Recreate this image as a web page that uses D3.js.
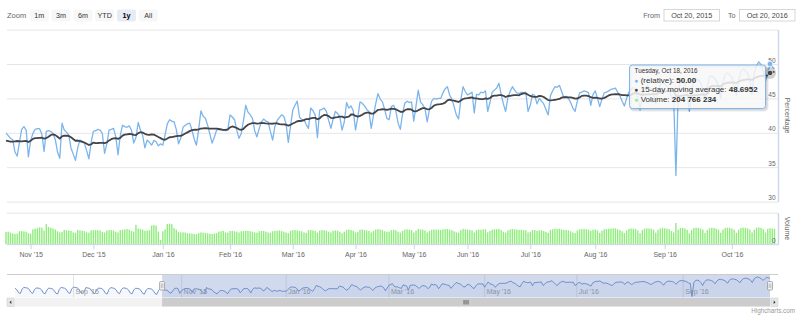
<!DOCTYPE html>
<html>
<head>
<meta charset="utf-8">
<script src="https://cdn.jsdelivr.net/npm/d3@7"></script>
<style>
  body { margin: 0; background: #fff; }
  svg { display: block; font-family: "Lucida Grande", "Lucida Sans Unicode", "Liberation Sans", Arial, sans-serif; }
</style>
</head>
<body>
<div id="chart"></div>
<script>
// ======= data ========

var startDate = "2015-07-30";
var endDate = "2016-10-20";
var viewFrom = "2015-10-21";   // first point of the "1y" range
var hoverDate = "2016-10-18";  // point shown in the tooltip
// days without a value
var gapDates = ["2015-11-26","2015-11-27","2016-01-18","2016-02-15","2016-03-25","2016-03-26","2016-03-27",
  "2016-04-14","2016-04-15","2016-04-16","2016-04-17","2016-05-12","2016-05-13","2016-05-14","2016-05-15",
  "2016-05-28","2016-05-29","2016-05-30","2016-06-04","2016-06-05","2016-07-03","2016-07-04"];

// (relative), whole history (navigator) - the first 83 values lie before the 1y view
var relative = [
  40.8,39.6,37.1,36.3,
  40.0,41.6,41.2,41.0,39.9,37.3,36.4,
  39.7,41.0,40.9,40.6,39.4,36.8,36.1,
  39.3,40.9,40.7,40.3,39.1,36.7,35.9,
  39.9,41.4,41.2,40.8,39.7,37.2,36.4,
  40.3,41.7,41.5,41.2,40.0,37.4,36.6,
  37.8,41.4,41.0,40.7,39.6,37.0,36.2,
  39.4,40.9,40.8,40.4,39.2,36.6,35.9,
  39.8,41.3,41.1,40.7,39.5,37.0,36.3,
  39.6,41.1,40.9,40.6,39.4,36.8,36.0,
  39.3,40.8,40.6,40.3,39.1,36.5,35.8,
  39.1,40.6,40.4,40.1,38.9,36.3,35.6,
  39.0,40.5,
  // Oct 21, 2015 ->
  40.0,39.6,39.2,39.0,37.2,36.6,38.6,40.5,40.9,40.4,
  36.5,38.9,39.9,40.5,40.6,40.6,39.8,37.3,40.2,40.3,
  40.2,39.9,39.0,37.2,36.3,41.4,40.4,40.1,39.7,37.8,
  36.9,36.0,37.8,38.95,38.8,38.5,37.4,36.2,38.6,40.2,
  40.3,40.5,40.4,39.9,37.0,38.4,40.4,40.5,40.65,39.4,
  36.8,39.6,41.1,40.9,40.8,41.0,40.4,38.5,39.3,41.5,
  40.4,39.6,37.8,38.95,38.6,38.2,38.9,38.7,38.1,38.4,
  38.2,39.7,41.3,41.9,41.7,41.6,40.5,38.4,39.2,40.8,
  41.1,41.3,41.4,40.4,39.1,38.2,40.5,43.2,42.4,42.1,
  41.1,39.8,38.5,39.4,40.4,40.5,40.4,40.4,40.3,40.4,
  42.6,42.3,41.9,40.4,39.2,39.9,41.8,44.0,43.0,42.6,
  42.1,40.3,39.4,40.6,41.6,42.0,41.7,41.6,40.2,38.95,
  40.9,41.8,42.2,42.6,42.4,41.3,38.6,41.0,43.3,44.0,
  44.6,42.3,41.9,41.9,41.2,40.65,43.6,43.2,42.6,39.3,
  43.3,43.4,43.6,43.1,41.8,40.65,42.0,43.1,42.8,42.3,
  40.4,41.6,44.4,43.6,43.9,43.2,40.4,42.2,44.5,44.3,
  43.9,43.4,43.1,40.65,42.5,44.2,45.7,44.9,44.5,43.4,
  42.1,41.9,43.8,44.0,43.2,41.4,40.5,42.8,44.3,44.6,
  44.4,44.5,41.7,43.9,46.2,44.5,44.1,43.5,41.6,43.4,
  44.6,45.0,44.9,45.0,45.0,45.8,46.4,46.7,45.5,44.9,
  43.8,42.6,42.0,44.8,46.7,46.0,45.5,45.7,45.9,42.9,
  45.6,45.5,45.9,45.8,46.1,43.1,44.4,45.9,46.2,46.5,
  47.2,45.6,44.2,43.1,45.1,46.0,46.7,46.2,45.8,45.7,
  45.9,45.8,45.9,43.1,44.0,45.6,45.4,44.2,45.0,44.6,
  44.2,43.4,42.6,45.4,46.1,46.7,46.6,46.9,46.0,45.1,
  45.3,45.0,44.4,43.6,43.1,44.6,45.8,45.9,46.1,46.0,
  45.8,44.0,45.6,46.1,45.0,43.8,44.9,45.8,45.9,46.1,
  46.3,46.4,46.5,45.9,45.4,44.6,43.9,45.0,45.9,46.3,
  46.6,46.2,45.1,43.3,45.6,46.5,46.8,46.6,46.4,45.7,
  44.2,46.0,47.0,47.3,47.1,46.8,46.3,45.2,45.0,33.8,
  45.5,47.4,47.6,47.2,45.6,43.1,46.2,47.6,47.9,47.7,
  47.3,46.4,44.6,46.8,48.1,48.3,48.0,47.6,46.8,45.0,
  47.4,48.5,48.7,48.4,48.0,47.0,45.4,47.628,48.9,49.3,
  49.1,48.6,47.6,45.6,48.7,49.8,50.3,49.9,48.9,47.5,
  48.6,50.0,49.6,49.3
];

// Volume in millions, from Oct 21, 2015
var volumeM = [
  158,160,150,138,132,136,165,168,162,160,
  140,135,190,198,205,215,210,175,256,220,
  208,200,188,165,150,158,182,178,175,170,
  150,145,180,176,172,168,152,148,176,180,
  182,178,176,158,150,174,178,180,176,160,
  150,180,185,188,192,186,170,160,247,200,
  192,185,170,175,180,238,242,236,160,55,
  165,190,258,262,255,205,185,160,150,152,
  150,140,138,136,130,128,140,150,148,145,
  140,132,130,138,142,160,165,170,150,148,
  168,170,165,160,150,165,168,172,170,165,
  160,150,148,165,168,170,160,150,145,165,
  170,172,175,168,160,148,140,172,178,180,
  176,170,165,150,145,178,182,176,168,148,
  175,180,178,172,160,150,170,176,172,158,
  140,160,182,186,180,172,150,158,184,188,
  182,176,170,150,168,186,192,188,180,165,
  158,162,180,184,178,160,148,170,186,190,
  184,180,150,172,194,190,186,176,150,170,
  184,188,186,185,182,188,192,195,186,178,
  165,150,146,178,196,190,186,182,176,150,
  180,186,184,188,190,152,170,186,190,192,
  196,180,160,148,176,188,194,190,186,182,
  184,180,178,150,160,182,180,170,178,176,
  168,155,145,182,190,196,194,198,188,180,
  182,176,165,150,142,176,190,192,194,190,
  186,170,184,188,176,145,172,190,194,196,
  198,200,202,190,180,165,142,175,195,200,
  198,194,175,140,180,198,202,200,196,185,
  148,182,200,205,202,198,190,168,150,270,
  185,205,208,200,182,140,184,206,210,206,
  200,186,145,182,204,208,206,198,185,148,
  186,205,210,206,200,184,146,184,206,210,
  208,202,186,150,184,210,214,208,190,150,
  196,204.766234,200,196
];

var maPeriod = 15;
var yTicks = [30, 35, 40, 45, 50, 55];
var volTicks = [0, 400e6];
var zoomButtons = ["1m", "3m", "6m", "YTD", "1y", "All"];
var selectedButton = "1y";

// ======= layout ========

var width = 800;
var height = 316;
var plotLeft = 7, plotRight = 778;
var mainTop = 29.6, mainBottom = 201.6;
var volTop = 212.7, volBottom = 244.3;
var navTop = 274.5, navBottom = 297.5, navLeft = 15, navRight = 770;
var scrollTop = 298, scrollBottom = 306.5;

var blue = "#7cb5ec", black = "#434348", green = "#90ed7d";
var axisColor = "#ccd6eb", gridColor = "#e6e6e6", labelColor = "#666666";

var parse = d3.utcParse("%Y-%m-%d");
var dayKey = d3.utcFormat("%Y-%m-%d");
var gapSet = new Set(gapDates);

var dates = [];
for (var d = parse(startDate); d <= parse(endDate); d = d3.utcDay.offset(d, 1)) {
  if (!gapSet.has(dayKey(d))) dates.push(d);
}
if (dates.length !== relative.length) throw new Error("dates " + dates.length + " vs relative " + relative.length);

var first = dates.findIndex(function(d) { return dayKey(d) === viewFrom; });
if (relative.length - first !== volumeM.length) throw new Error("volume length " + volumeM.length);

var view = d3.range(first, dates.length).map(function(k, i) {
  var win = relative.slice(Math.max(0, k - maPeriod + 1), k + 1);
  return { i: i, date: dates[k], v: relative[k], ma: d3.mean(win), vol: volumeM[i] * 1e6 };
});

var svg = d3.select("#chart")
  .append("svg")
    .attr("width", width)
    .attr("height", height);

svg.append("defs").append("clipPath").attr("id", "mainClip")
  .append("rect").attr("x", plotLeft - 2).attr("y", mainTop).attr("width", plotRight - plotLeft + 2).attr("height", mainBottom - mainTop);

// ======= scales ========

var x = d3.scaleLinear().domain([0, view.length - 1]).range([6, 774.5]);
var y = d3.scaleLinear().domain([30, 55]).range([mainBottom, mainTop]);
var yVol = d3.scaleLinear().domain([0, 400e6]).range([volBottom, volTop]);

// ======= gridlines & y axes ========

function cleanAxis(g, size) {
  g.attr("font-family", null).attr("font-size", size);
  g.selectAll("text").attr("fill", labelColor);
}

svg.append("g")
    .attr("transform", "translate(" + plotRight + ",0)")
    .call(d3.axisLeft(y).tickValues(yTicks).tickSize(plotRight - plotLeft).tickFormat(""))
    .call(function(g) { g.select(".domain").remove(); g.selectAll("line").attr("stroke", gridColor); });

svg.append("g")
    .attr("transform", "translate(" + plotRight + ",0)")
    .call(d3.axisLeft(yVol).tickValues(volTicks).tickSize(plotRight - plotLeft).tickFormat(""))
    .call(function(g) { g.select(".domain").remove(); g.selectAll("line").attr("stroke", gridColor); });

// ======= volume ========

svg.append("g").attr("class", "volume")
  .selectAll("rect")
    .data(view)
  .enter().append("rect")
    .attr("x", function(d) { return x(d.i) - 0.7; })
    .attr("y", function(d) { return yVol(d.vol); })
    .attr("width", 1.4)
    .attr("height", function(d) { return volBottom - yVol(d.vol); })
    .style("fill", green);

// ======= lines ========

var lineRel = d3.line().x(function(d) { return x(d.i); }).y(function(d) { return y(d.v); });
var lineMa = d3.line().x(function(d) { return x(d.i); }).y(function(d) { return y(d.ma); });

var lines = svg.append("g").attr("clip-path", "url(#mainClip)");
lines.append("path").datum(view)
    .attr("d", lineRel)
    .style("fill", "none").style("stroke", blue).style("stroke-width", 1.3).style("stroke-linejoin", "round");
lines.append("path").datum(view)
    .attr("d", lineMa)
    .style("fill", "none").style("stroke", black).style("stroke-width", 1.8).style("stroke-linejoin", "round");

// ======= axes ========

var gY = svg.append("g")
    .attr("transform", "translate(" + plotRight + ",0)")
    .call(d3.axisLeft(y).tickValues(yTicks.filter(function(v) { return v < 55; })).tickSize(0).tickPadding(2.5).tickSizeOuter(0));
cleanAxis(gY, 6.5);
gY.selectAll("text").attr("dy", -2);
gY.select(".domain").attr("stroke", axisColor).attr("stroke-width", 1.4);

var gV = svg.append("g")
    .attr("transform", "translate(" + plotRight + ",0)")
    .call(d3.axisLeft(yVol).tickValues([0]).tickSize(0).tickPadding(2.5).tickSizeOuter(0));
cleanAxis(gV, 6.5);
gV.selectAll("text").attr("dy", -2);
gV.select(".domain").attr("stroke", axisColor).attr("stroke-width", 1.4);

svg.append("text")
    .attr("transform", "translate(787.5," + ((mainTop + mainBottom) / 2) + ") rotate(90)")
    .attr("text-anchor", "middle").attr("dy", "0.35em")
    .attr("font-size", 7).attr("fill", labelColor)
    .text("Percentage");
svg.append("text")
    .attr("transform", "translate(787.5," + ((volTop + volBottom) / 2) + ") rotate(90)")
    .attr("text-anchor", "middle").attr("dy", "0.35em")
    .attr("font-size", 7).attr("fill", labelColor)
    .text("Volume");

var byDate = d3.bisector(function(d) { return d.date; }).left;
var monthStarts = d3.utcMonth.range(d3.utcMonth.ceil(view[0].date), view[view.length - 1].date);
var xTicks = monthStarts.map(function(m) { return byDate(view, m); });
var fmtMonth = d3.utcFormat("%b '%y");

var gX = svg.append("g")
    .attr("transform", "translate(0," + volBottom + ")")
    .call(d3.axisBottom(x).tickValues(xTicks).tickSize(5).tickPadding(2.5).tickSizeOuter(0)
      .tickFormat(function(i) { return fmtMonth(view[i].date); }));
cleanAxis(gX, 7);
gX.select(".domain").remove();
gX.selectAll("line").attr("stroke", axisColor);
gX.insert("line", ":first-child").attr("x1", plotLeft).attr("x2", plotRight).attr("stroke", axisColor);

// ======= navigator ========

var navX = d3.scaleLinear().domain([0, dates.length - 1]).range([navLeft, navRight]);
var navY = d3.scaleLinear().domain(d3.extent(relative)).range([navBottom - 1, navTop + 2.5]);
var nav = svg.append("g").attr("class", "navigator");

var navMonths = d3.utcMonth.every(2).range(dates[0], dates[dates.length - 1]);
var fmtNav = d3.utcFormat("%b '%y");
var byDay = d3.bisector(function(d) { return d; }).left;

nav.selectAll(".navGrid")
    .data(navMonths)
  .enter().append("line")
    .attr("class", "navGrid")
    .attr("x1", function(m) { return navX(byDay(dates, m)); })
    .attr("x2", function(m) { return navX(byDay(dates, m)); })
    .attr("y1", navTop).attr("y2", navBottom)
    .attr("stroke", gridColor);

nav.append("path").datum(relative)
    .attr("d", d3.area().x(function(v, k) { return navX(k); }).y0(navBottom).y1(function(v) { return navY(v); }))
    .style("fill", "rgba(51,92,173,0.05)");
nav.append("path").datum(relative)
    .attr("d", d3.line().x(function(v, k) { return navX(k); }).y(function(v) { return navY(v); }))
    .style("fill", "none").style("stroke", "#5077c6").style("stroke-width", 0.8);

nav.selectAll(".navLabel")
    .data(navMonths)
  .enter().append("text")
    .attr("class", "navLabel")
    .attr("x", function(m) { return navX(byDay(dates, m)) + 2; })
    .attr("y", navBottom - 3.5)
    .attr("font-size", 7).attr("fill", "#999999")
    .text(function(m) { return fmtNav(m); });

var selLeft = navX(first), selRight = navX(dates.length - 1);

nav.append("rect")
    .attr("x", selLeft).attr("y", navTop)
    .attr("width", selRight - selLeft).attr("height", navBottom - navTop)
    .style("fill", "rgba(102,133,194,0.3)");

nav.append("line")
    .attr("x1", plotLeft).attr("x2", plotRight).attr("y1", navTop).attr("y2", navTop)
    .attr("stroke", "#cccccc");

[selLeft, selRight].forEach(function(hx) {
  nav.append("rect")
      .attr("x", hx - 2.5).attr("y", 281.5).attr("width", 5).attr("height", 8.5).attr("rx", 1)
      .style("fill", "#f2f2f2").style("stroke", "#999999").style("stroke-width", 0.8);
  [-0.8, 0.8].forEach(function(o) {
    nav.append("line").attr("x1", hx + o).attr("x2", hx + o).attr("y1", 283.5).attr("y2", 288)
        .attr("stroke", "#999999").attr("stroke-width", 0.6);
  });
});

// scrollbar
var scroll = svg.append("g").attr("class", "scrollbar");
scroll.append("rect")
    .attr("x", plotLeft).attr("y", scrollTop).attr("width", plotRight - plotLeft).attr("height", scrollBottom - scrollTop)
    .style("fill", "#f2f2f2");
scroll.append("rect")
    .attr("x", selLeft).attr("y", scrollTop).attr("width", selRight - selLeft).attr("height", scrollBottom - scrollTop)
    .style("fill", "#cccccc");
var midS = (selLeft + selRight) / 2, midY = (scrollTop + scrollBottom) / 2;
[-2, 0, 2].forEach(function(o) {
  scroll.append("line").attr("x1", midS + o).attr("x2", midS + o).attr("y1", midY - 2.2).attr("y2", midY + 2.2)
      .attr("stroke", "#333333").attr("stroke-width", 0.7);
});
scroll.append("rect").attr("x", plotLeft).attr("y", scrollTop).attr("width", 7).attr("height", scrollBottom - scrollTop)
    .style("fill", "#e6e6e6").style("stroke", "#cccccc").style("stroke-width", 0.5);
scroll.append("rect").attr("x", plotRight - 7).attr("y", scrollTop).attr("width", 7).attr("height", scrollBottom - scrollTop)
    .style("fill", "#e6e6e6").style("stroke", "#cccccc").style("stroke-width", 0.5);
scroll.append("path")
    .attr("d", "M" + (plotLeft + 4.3) + "," + (midY - 1.8) + "L" + (plotLeft + 2.5) + "," + midY + "L" + (plotLeft + 4.3) + "," + (midY + 1.8) + "Z")
    .style("fill", "#333333");
scroll.append("path")
    .attr("d", "M" + (plotRight - 4.3) + "," + (midY - 1.8) + "L" + (plotRight - 2.5) + "," + midY + "L" + (plotRight - 4.3) + "," + (midY + 1.8) + "Z")
    .style("fill", "#333333");

// ======= range selector ========

svg.append("text")
    .attr("x", 7).attr("y", 18)
    .attr("font-size", 7.5).attr("fill", labelColor)
    .text("Zoom");

var btn = svg.append("g").attr("class", "buttons")
  .selectAll("g")
    .data(zoomButtons)
  .enter().append("g")
    .attr("transform", function(b, k) { return "translate(" + (39.3 + k * 21.8) + ",0)"; });
btn.append("rect")
    .attr("x", -9.5).attr("y", 9.5).attr("width", 19).attr("height", 12).attr("rx", 2)
    .style("fill", function(b) { return b === selectedButton ? "#e6ebf5" : "#f7f7f7"; });
btn.append("text")
    .attr("y", 18.3).attr("text-anchor", "middle")
    .attr("font-size", 7.2)
    .attr("font-weight", function(b) { return b === selectedButton ? "bold" : "normal"; })
    .attr("fill", function(b) { return b === selectedButton ? "#000000" : "#333333"; })
    .text(function(b) { return b; });

var fmtInput = d3.utcFormat("%b %-d, %Y");
var lastDate = dates[dates.length - 1];
var inputs = [
  { label: "From", text: fmtInput(d3.utcYear.offset(lastDate, -1)), x: 664 },
  { label: "To", text: fmtInput(lastDate), x: 739.5 }
];
var inp = svg.append("g").selectAll("g").data(inputs).enter().append("g");
inp.append("text")
    .attr("x", function(o) { return o.x - 4; }).attr("y", 18.3).attr("text-anchor", "end")
    .attr("font-size", 7.2).attr("fill", labelColor)
    .text(function(o) { return o.label; });
inp.append("rect")
    .attr("x", function(o) { return o.x; }).attr("y", 9.5).attr("width", 55.5).attr("height", 11.5)
    .style("fill", "#ffffff").style("stroke", "#cccccc").style("stroke-width", 0.8);
inp.append("text")
    .attr("x", function(o) { return o.x + 27.75; }).attr("y", 18.3).attr("text-anchor", "middle")
    .attr("font-size", 7.2).attr("fill", "#444444")
    .text(function(o) { return o.text; });

// ======= hover state & tooltip ========

var h = view[byDate(view, parse(hoverDate))];
var hx = x(h.i);

svg.append("circle").attr("cx", hx).attr("cy", y(h.ma)).attr("r", 6).style("fill", black).style("opacity", 0.25);
svg.append("circle").attr("cx", hx).attr("cy", y(h.v)).attr("r", 2.8).style("fill", blue).style("stroke", "#fff").style("stroke-width", 0.7);
svg.append("circle").attr("cx", hx).attr("cy", y(h.ma)).attr("r", 2.8).style("fill", black).style("stroke", "#fff").style("stroke-width", 0.7);

var tipW = 136, tipH = 43.5;
var tipX = hx - 4.5 - tipW, tipY = 65;
var tip = svg.append("g").attr("class", "tooltip").attr("transform", "translate(" + tipX + "," + tipY + ")");

[3, 2, 1].forEach(function(o) {
  tip.append("rect").attr("x", o * 0.5).attr("y", o * 0.5).attr("width", tipW).attr("height", tipH).attr("rx", 3)
      .style("fill", "none").style("stroke", "#000").style("stroke-opacity", 0.03 * o).style("stroke-width", o);
});
tip.append("rect")
    .attr("width", tipW).attr("height", tipH).attr("rx", 3)
    .style("fill", "rgba(247,247,247,0.85)").style("stroke", blue).style("stroke-width", 1);

var fmtHeader = d3.utcFormat("%A, %b %-d, %Y");
var fmtVol = function(v) { return d3.format(",")(Math.round(v)).replace(/,/g, " "); };

tip.append("text").attr("x", 5).attr("y", 8.3).attr("font-size", 6.3).attr("fill", "#333333")
    .text(fmtHeader(h.date));

var tipRows = [
  { color: blue, name: "(relative)", value: h.v.toFixed(2) },
  { color: black, name: "15-day moving average", value: h.ma.toFixed(4) },
  { color: green, name: "Volume", value: fmtVol(h.vol) }
];
tipRows.forEach(function(r, k) {
  var t = tip.append("text").attr("x", 5).attr("y", 17.6 + k * 9.5).attr("font-size", 8).attr("fill", "#333333");
  t.append("tspan").style("fill", r.color).attr("font-size", 6.5).text("\u25CF");
  t.append("tspan").text(" " + r.name + ": ");
  t.append("tspan").attr("font-weight", "bold").text(r.value);
});

// ======= credits ========

svg.append("text")
    .attr("x", 795).attr("y", 313).attr("text-anchor", "end")
    .attr("font-size", 6.3).attr("fill", "#999999")
    .text("Highcharts.com");
</script>
</body>
</html>
